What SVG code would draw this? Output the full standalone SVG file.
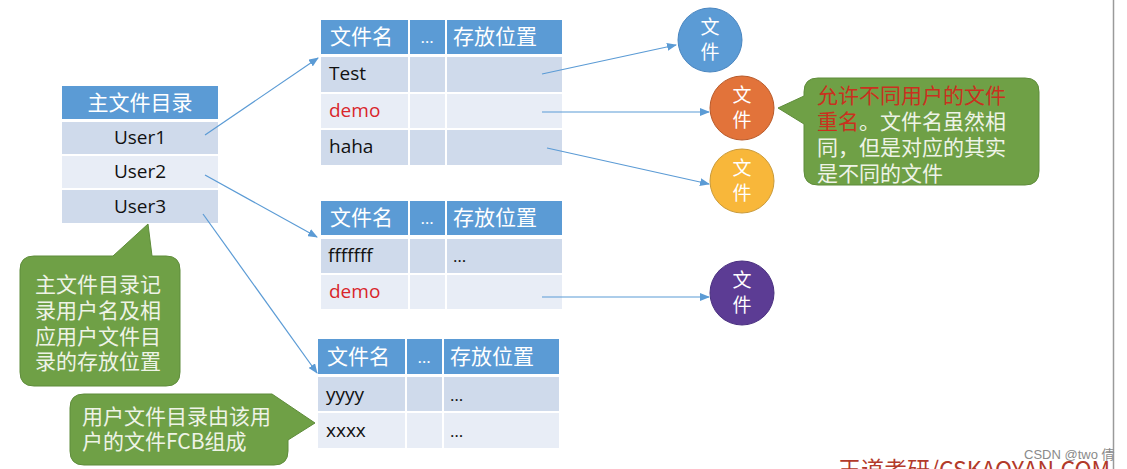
<svg xmlns="http://www.w3.org/2000/svg" width="1127" height="469" viewBox="0 0 1127 469">
<style>
.cj{font-family:"Noto Sans CJK SC","Noto Sans",sans-serif}
.lt{font-family:"Open Sans","Noto Sans CJK SC",sans-serif}
.hd{fill:#5B9BD5}
.dk{fill:#CFDAEB}
.lg{fill:#E8EDF6}
.wt{fill:#FFFFFF}
.bk{fill:#111111}
.rd{fill:#D9262B}
.cn{stroke:#5B9BD5;stroke-width:1.2;fill:none;marker-end:url(#ah)}
.bub{fill:#6FA046;stroke:#5E8C3A;stroke-width:1}
</style>
<defs>
<marker id="ah" markerWidth="10" markerHeight="8" refX="9" refY="4" orient="auto" markerUnits="userSpaceOnUse">
<path d="M0,0 L10,4 L0,8 Z" fill="#5B9BD5"/>
</marker>
</defs>
<rect width="1127" height="469" fill="#FFFFFF"/>
<line x1="1113.5" y1="0" x2="1113.5" y2="469" stroke="#9a9a9a" stroke-width="1.5"/>

<g id="main-dir">
<rect x="62" y="86" width="156" height="33" class="hd"/>
<rect x="62" y="122" width="156" height="32" class="dk"/>
<rect x="62" y="156" width="156" height="32" class="lg"/>
<rect x="62" y="190" width="156" height="33" class="dk"/>
<text x="140" y="110" text-anchor="middle" font-size="21" class="cj wt">主文件目录</text>
<text x="140" y="144" text-anchor="middle" font-size="19" class="lt bk">User1</text>
<text x="140" y="178" text-anchor="middle" font-size="19" class="lt bk">User2</text>
<text x="140" y="213" text-anchor="middle" font-size="19" class="lt bk">User3</text>
</g>

<g id="ufd1">
<rect x="321" y="20" width="87" height="34" class="hd"/>
<rect x="410" y="20" width="35" height="34" class="hd"/>
<rect x="447" y="20" width="115" height="34" class="hd"/>
<rect x="321" y="57" width="87" height="35" class="dk"/>
<rect x="410" y="57" width="35" height="35" class="dk"/>
<rect x="447" y="57" width="115" height="35" class="dk"/>
<rect x="321" y="94" width="87" height="34" class="lg"/>
<rect x="410" y="94" width="35" height="34" class="lg"/>
<rect x="447" y="94" width="115" height="34" class="lg"/>
<rect x="321" y="130" width="87" height="35" class="dk"/>
<rect x="410" y="130" width="35" height="35" class="dk"/>
<rect x="447" y="130" width="115" height="35" class="dk"/>
<text x="330" y="44" font-size="21" class="cj wt">文件名</text>
<text x="427" y="43" text-anchor="middle" font-size="17" class="lt wt">…</text>
<text x="453" y="44" font-size="21" class="cj wt">存放位置</text>
<text x="329" y="80" font-size="19" class="lt bk">Test</text>
<text x="329" y="117" font-size="19" class="lt rd">demo</text>
<text x="329" y="153" font-size="19" class="lt bk">haha</text>
</g>

<g id="ufd2">
<rect x="321" y="201" width="87" height="34" class="hd"/>
<rect x="410" y="201" width="35" height="34" class="hd"/>
<rect x="447" y="201" width="115" height="34" class="hd"/>
<rect x="321" y="239" width="87" height="34" class="dk"/>
<rect x="410" y="239" width="35" height="34" class="dk"/>
<rect x="447" y="239" width="115" height="34" class="dk"/>
<rect x="321" y="275" width="87" height="34" class="lg"/>
<rect x="410" y="275" width="35" height="34" class="lg"/>
<rect x="447" y="275" width="115" height="34" class="lg"/>
<text x="330" y="225" font-size="21" class="cj wt">文件名</text>
<text x="427" y="224" text-anchor="middle" font-size="17" class="lt wt">…</text>
<text x="453" y="225" font-size="21" class="cj wt">存放位置</text>
<text x="328" y="262" font-size="19" class="lt bk">fffffff</text>
<text x="453" y="262" font-size="17" class="lt bk">…</text>
<text x="329" y="298" font-size="19" class="lt rd">demo</text>
</g>

<g id="ufd3">
<rect x="318" y="339" width="87" height="35" class="hd"/>
<rect x="407" y="339" width="35" height="35" class="hd"/>
<rect x="444" y="339" width="115" height="35" class="hd"/>
<rect x="318" y="377" width="87" height="34" class="dk"/>
<rect x="407" y="377" width="35" height="34" class="dk"/>
<rect x="444" y="377" width="115" height="34" class="dk"/>
<rect x="318" y="413" width="87" height="35" class="lg"/>
<rect x="407" y="413" width="35" height="35" class="lg"/>
<rect x="444" y="413" width="115" height="35" class="lg"/>
<text x="327" y="364" font-size="21" class="cj wt">文件名</text>
<text x="424" y="363" text-anchor="middle" font-size="17" class="lt wt">…</text>
<text x="450" y="364" font-size="21" class="cj wt">存放位置</text>
<text x="326" y="401" font-size="19" class="lt bk">yyyy</text>
<text x="450" y="401" font-size="17" class="lt bk">…</text>
<text x="326" y="437" font-size="19" class="lt bk">xxxx</text>
<text x="450" y="437" font-size="17" class="lt bk">…</text>
</g>

<g id="file-blue">
<circle cx="710" cy="40" r="32" fill="#5B9BD5" stroke="#4A86C0" stroke-width="1"/>
<text x="710" y="34" text-anchor="middle" font-size="19" class="cj wt">文</text>
<text x="710" y="59" text-anchor="middle" font-size="19" class="cj wt">件</text>
</g>
<g id="file-orange">
<circle cx="742" cy="108" r="32" fill="#E2733A" stroke="#B85A2A" stroke-width="1"/>
<text x="742" y="102" text-anchor="middle" font-size="19" class="cj wt">文</text>
<text x="742" y="127" text-anchor="middle" font-size="19" class="cj wt">件</text>
</g>
<g id="file-yellow">
<circle cx="742" cy="181" r="32" fill="#F8B73A" stroke="#C99A3A" stroke-width="1"/>
<text x="742" y="175" text-anchor="middle" font-size="19" class="cj wt">文</text>
<text x="742" y="200" text-anchor="middle" font-size="19" class="cj wt">件</text>
</g>
<g id="file-purple">
<circle cx="742" cy="293" r="32" fill="#5C3C94" stroke="#4A3080" stroke-width="1"/>
<text x="742" y="287" text-anchor="middle" font-size="19" class="cj wt">文</text>
<text x="742" y="312" text-anchor="middle" font-size="19" class="cj wt">件</text>
</g>

<g id="connectors">
<line x1="205" y1="135" x2="318" y2="58" class="cn"/>
<line x1="205" y1="175" x2="317" y2="237" class="cn"/>
<line x1="203" y1="214" x2="317" y2="373" class="cn"/>
<line x1="542" y1="74" x2="676" y2="45" class="cn"/>
<line x1="542" y1="112" x2="709" y2="112" class="cn"/>
<line x1="547" y1="148" x2="709" y2="184" class="cn"/>
<line x1="542" y1="297" x2="709" y2="297" class="cn"/>
</g>

<g id="note-rename">
<path d="M818,78 H1025 Q1039,78 1039,92 V171 Q1039,185 1025,185 H818 Q804,185 804,171 V124 L778,108 L804,96 V92 Q804,78 818,78 Z" class="bub"/>
<text x="817" y="103" font-size="21" class="cj"><tspan fill="#C9311F">允许不同用户的文件</tspan></text>
<text x="817" y="129" font-size="21" class="cj"><tspan fill="#C9311F">重名</tspan><tspan fill="#EEF3E6">。文件名虽然相</tspan></text>
<text x="817" y="155" font-size="21" class="cj" fill="#EEF3E6">同，但是对应的其实</text>
<text x="817" y="181" font-size="21" class="cj" fill="#EEF3E6">是不同的文件</text>
</g>

<g id="note-mfd">
<path d="M34,256 H113 L148,224 L152,256 H166 Q180,256 180,270 V372 Q180,386 166,386 H34 Q20,386 20,372 V270 Q20,256 34,256 Z" class="bub"/>
<text x="35" y="292" font-size="21" class="cj" fill="#EEF3E6">主文件目录记</text>
<text x="35" y="318" font-size="21" class="cj" fill="#EEF3E6">录用户名及相</text>
<text x="35" y="344" font-size="21" class="cj" fill="#EEF3E6">应用户文件目</text>
<text x="35" y="369" font-size="21" class="cj" fill="#EEF3E6">录的存放位置</text>
</g>

<g id="note-ufd">
<path d="M84,394 H272 L315,423 L288,440 V451 Q288,465 274,465 H84 Q70,465 70,451 V408 Q70,394 84,394 Z" class="bub"/>
<text x="82" y="424" font-size="21" class="cj" fill="#EEF3E6">用户文件目录由该用</text>
<text x="82" y="449" font-size="21" class="cj" fill="#EEF3E6">户的文件FCB组成</text>
</g>

<g id="watermark">
<text x="838" y="478" font-size="23" class="cj" fill="#B23A2A">王道考研/CSKAOYAN.COM</text>
<text x="1024" y="459" font-size="13" font-family="Liberation Sans, Noto Sans CJK SC, sans-serif" fill="#8a8a8a">CSDN @two 倩</text>
</g>
</svg>
